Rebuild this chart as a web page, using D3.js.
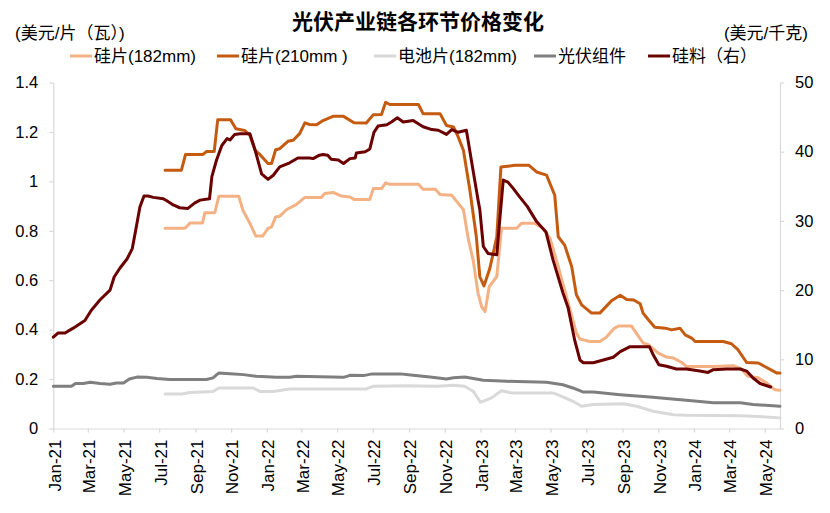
<!DOCTYPE html>
<html>
<head>
<meta charset="utf-8">
<script src="https://cdn.jsdelivr.net/npm/d3@7"></script>
<style>
  body { margin: 0; background: #fff; }
  text { font-family: "Liberation Sans", Arial, "Noto Sans CJK SC", sans-serif; fill: #000; }
</style>
</head>
<body>
<svg id="chart" width="830" height="513"></svg>
<script>
// prices, [date, value]
const wafer182 = [
  ["2021-07-11",0.81],["2021-08-14",0.81],["2021-08-23",0.832],["2021-09-13",0.832],["2021-09-17",0.873],
  ["2021-10-04",0.873],["2021-10-11",0.94],["2021-11-14",0.94],["2021-11-21",0.883],["2021-12-03",0.83],
  ["2021-12-13",0.779],["2021-12-25",0.779],["2022-01-03",0.81],["2022-01-09",0.816],["2022-01-16",0.856],
  ["2022-01-23",0.859],["2022-02-04",0.886],["2022-02-20",0.906],["2022-03-07",0.935],["2022-04-04",0.935],
  ["2022-04-10",0.951],["2022-04-24",0.955],["2022-05-08",0.941],["2022-05-23",0.937],["2022-05-30",0.927],
  ["2022-06-26",0.927],["2022-07-02",0.971],["2022-07-16",0.971],["2022-07-23",0.994],["2022-07-30",0.988],
  ["2022-09-17",0.988],["2022-09-25",0.968],["2022-10-16",0.968],["2022-10-24",0.947],["2022-11-13",0.944],
  ["2022-11-22",0.917],["2022-12-03",0.885],["2022-12-11",0.77],["2022-12-20",0.675],["2022-12-28",0.547],
  ["2023-01-03",0.493],["2023-01-09",0.473],["2023-01-16",0.574],["2023-01-29",0.615],["2023-02-06",0.81],
  ["2023-03-04",0.81],["2023-03-12",0.83],["2023-04-04",0.83],["2023-04-18",0.81],["2023-04-30",0.769],
  ["2023-05-14",0.655],["2023-05-28",0.534],["2023-06-14",0.386],["2023-06-20",0.362],["2023-07-07",0.352],
  ["2023-07-24",0.352],["2023-08-04",0.369],["2023-08-17",0.404],["2023-08-25",0.415],["2023-09-16",0.415],
  ["2023-09-25",0.384],["2023-10-06",0.346],["2023-10-15",0.339],["2023-11-01",0.305],["2023-11-15",0.289],
  ["2023-11-27",0.285],["2023-12-11",0.267],["2023-12-19",0.251],["2024-02-03",0.251],["2024-03-08",0.254],
  ["2024-03-22",0.241],["2024-04-02",0.211],["2024-04-20",0.205],["2024-05-04",0.184],["2024-05-18",0.157],
  ["2024-05-27",0.155]
];

const wafer210 = [
  ["2021-07-11",1.045],["2021-08-08",1.045],["2021-08-15",1.109],["2021-09-14",1.109],["2021-09-20",1.121],
  ["2021-10-03",1.121],["2021-10-09",1.249],["2021-10-31",1.249],["2021-11-09",1.213],["2021-11-24",1.206],
  ["2021-12-03",1.186],["2021-12-12",1.125],["2021-12-20",1.109],["2022-01-03",1.072],["2022-01-09",1.072],
  ["2022-01-16",1.128],["2022-01-23",1.132],["2022-02-06",1.162],["2022-02-15",1.166],["2022-02-26",1.193],
  ["2022-03-07",1.237],["2022-03-15",1.23],["2022-03-27",1.229],["2022-04-07",1.246],["2022-04-24",1.263],
  ["2022-05-12",1.263],["2022-05-30",1.237],["2022-06-20",1.236],["2022-07-02",1.27],["2022-07-16",1.271],
  ["2022-07-23",1.32],["2022-07-30",1.311],["2022-09-17",1.311],["2022-09-25",1.274],["2022-10-24",1.274],
  ["2022-11-04",1.226],["2022-11-16",1.22],["2022-11-24",1.18],["2022-12-03",1.125],["2022-12-14",0.964],
  ["2022-12-25",0.776],["2022-12-31",0.614],["2023-01-07",0.577],["2023-01-17",0.647],["2023-01-29",0.776],
  ["2023-02-05",1.058],["2023-03-01",1.065],["2023-03-25",1.065],["2023-04-07",1.038],["2023-04-24",1.025],
  ["2023-05-08",0.944],["2023-05-14",0.776],["2023-05-25",0.742],["2023-06-06",0.655],["2023-06-14",0.541],
  ["2023-06-23",0.5],["2023-07-10",0.467],["2023-07-24",0.467],["2023-08-02",0.489],["2023-08-13",0.517],
  ["2023-08-28",0.539],["2023-09-08",0.522],["2023-09-20",0.52],["2023-10-01",0.505],["2023-10-06",0.467],
  ["2023-10-15",0.44],["2023-10-26",0.41],["2023-11-13",0.406],["2023-11-24",0.399],["2023-12-08",0.406],
  ["2023-12-17",0.379],["2023-12-28",0.366],["2024-01-03",0.352],["2024-02-20",0.352],["2024-03-05",0.343],
  ["2024-03-16",0.319],["2024-03-31",0.267],["2024-04-20",0.265],["2024-05-01",0.251],["2024-05-21",0.225],
  ["2024-05-27",0.225]
];

const cell182 = [
  ["2021-07-11",0.14],["2021-08-08",0.14],["2021-08-23",0.146],["2021-10-01",0.15],["2021-10-11",0.164],
  ["2021-12-09",0.164],["2021-12-20",0.15],["2022-01-12",0.15],["2022-02-09",0.16],["2022-06-20",0.16],
  ["2022-07-02",0.171],["2022-08-28",0.173],["2022-10-19",0.171],["2022-11-16",0.175],["2022-12-05",0.171],
  ["2022-12-20",0.15],["2023-01-01",0.106],["2023-01-20",0.124],["2023-02-06",0.153],["2023-02-23",0.144],
  ["2023-05-05",0.144],["2023-05-22",0.128],["2023-06-08",0.11],["2023-06-23",0.09],["2023-07-13",0.097],
  ["2023-09-02",0.1],["2023-09-25",0.09],["2023-10-23",0.07],["2023-11-27",0.056],["2023-12-19",0.054],
  ["2024-03-20",0.052],["2024-04-11",0.05],["2024-05-27",0.043]
];

const modules = [
  ["2021-01-01",0.171],["2021-02-01",0.171],["2021-02-08",0.182],["2021-02-21",0.182],["2021-03-05",0.187],
  ["2021-03-22",0.182],["2021-04-08",0.179],["2021-04-19",0.184],["2021-05-01",0.184],["2021-05-11",0.2],
  ["2021-05-24",0.208],["2021-06-10",0.207],["2021-06-27",0.202],["2021-07-19",0.198],["2021-09-20",0.198],
  ["2021-10-01",0.205],["2021-10-11",0.225],["2021-10-30",0.222],["2021-11-22",0.218],["2021-12-14",0.211],
  ["2022-01-18",0.207],["2022-02-09",0.207],["2022-02-21",0.211],["2022-05-12",0.207],["2022-05-23",0.215],
  ["2022-06-15",0.214],["2022-06-30",0.221],["2022-08-17",0.221],["2022-09-08",0.215],["2022-10-07",0.208],
  ["2022-11-04",0.2],["2022-11-16",0.205],["2022-12-05",0.208],["2023-01-06",0.195],["2023-02-15",0.191],
  ["2023-04-24",0.187],["2023-05-22",0.177],["2023-06-08",0.164],["2023-06-25",0.148],["2023-07-13",0.148],
  ["2023-08-28",0.137],["2023-10-23",0.126],["2023-11-15",0.121],["2023-12-19",0.114],["2024-02-03",0.104],
  ["2024-03-20",0.104],["2024-04-11",0.097],["2024-05-27",0.09]
];

// polysilicon, right axis (USD/kg)
const polysilicon = [
  ["2021-01-01",13.2],["2021-01-09",13.8],["2021-01-21",13.8],["2021-02-04",14.5],["2021-02-24",15.6],
  ["2021-03-07",17.1],["2021-03-22",18.6],["2021-04-08",20.0],["2021-04-15",21.9],["2021-04-25",23.2],
  ["2021-05-07",24.5],["2021-05-16",26.0],["2021-05-23",29.2],["2021-05-29",32.0],["2021-06-05",33.6],
  ["2021-06-12",33.6],["2021-06-21",33.4],["2021-07-08",33.2],["2021-07-14",32.9],["2021-07-25",32.3],
  ["2021-08-05",31.9],["2021-08-19",31.8],["2021-08-31",32.6],["2021-09-09",33.0],["2021-09-25",33.2],
  ["2021-09-29",36.4],["2021-10-07",38.8],["2021-10-16",40.9],["2021-10-25",41.9],["2021-10-30",41.7],
  ["2021-11-07",42.5],["2021-11-16",42.6],["2021-12-03",42.6],["2021-12-12",40.2],["2021-12-23",36.8],
  ["2022-01-03",36.0],["2022-01-12",36.6],["2022-01-23",37.8],["2022-02-09",38.4],["2022-02-23",39.1],
  ["2022-03-15",39.1],["2022-03-21",39.0],["2022-04-01",39.5],["2022-04-07",39.6],["2022-04-15",39.5],
  ["2022-04-21",38.9],["2022-05-03",38.8],["2022-05-12",38.3],["2022-05-23",39.0],["2022-06-01",39.1],
  ["2022-06-03",39.8],["2022-06-18",40.0],["2022-06-26",40.4],["2022-07-03",42.8],["2022-07-10",43.7],
  ["2022-07-25",43.9],["2022-08-02",44.3],["2022-08-12",44.9],["2022-08-22",44.3],["2022-09-08",44.5],
  ["2022-09-25",43.6],["2022-10-10",43.2],["2022-10-21",43.1],["2022-11-04",42.5],["2022-11-13",43.2],
  ["2022-11-24",42.8],["2022-12-08",43.1],["2022-12-17",38.5],["2022-12-28",33.0],["2022-12-31",31.6],
  ["2023-01-06",26.3],["2023-01-14",25.3],["2023-01-29",25.1],["2023-02-03",30.1],["2023-02-09",35.9],
  ["2023-02-17",35.6],["2023-02-26",34.7],["2023-03-07",33.7],["2023-03-22",32.1],["2023-04-07",29.9],
  ["2023-04-23",28.4],["2023-05-05",24.4],["2023-05-22",19.6],["2023-05-31",17.4],["2023-06-11",12.8],
  ["2023-06-20",9.9],["2023-06-26",9.5],["2023-07-13",9.5],["2023-07-30",9.9],["2023-08-16",10.3],
  ["2023-08-28",11.1],["2023-09-13",11.8],["2023-10-17",11.8],["2023-10-23",10.7],["2023-11-02",9.2],
  ["2023-11-15",9.0],["2023-12-02",8.6],["2023-12-19",8.6],["2024-01-11",8.3],["2024-01-25",8.1],
  ["2024-02-03",8.5],["2024-02-26",8.6],["2024-03-20",8.6],["2024-03-31",8.3],["2024-04-11",7.3],
  ["2024-04-23",6.5],["2024-05-11",6.0]
];

const leftTicks = [0, 0.2, 0.4, 0.6, 0.8, 1, 1.2, 1.4];
const rightTicks = [0, 10, 20, 30, 40, 50];

const seriesList = [
  { name: "硅片(182mm)",  data: wafer182,    axis: "left",  color: "#f4b183" },
  { name: "硅片(210mm )", data: wafer210,    axis: "left",  color: "#c55a11" },
  { name: "电池片(182mm)", data: cell182,     axis: "left",  color: "#d9d9d9" },
  { name: "光伏组件",      data: modules,     axis: "left",  color: "#7f7f7f" },
  { name: "硅料（右）",    data: polysilicon, axis: "right", color: "#6b0000" }
];

const svg = d3.select("#chart");
const parse = d3.timeParse("%Y-%m-%d");

const plot = { left: 53.3, right: 780, top: 82.5, bottom: 428.5 };

let x = d3.scaleTime()
    .domain([new Date(2021, 0, 1), new Date(2024, 4, 27)])
    .range([plot.left, plot.right]);

let yLeft = d3.scaleLinear().domain([0, 1.4]).range([plot.bottom, plot.top]);
let yRight = d3.scaleLinear().domain([0, 50]).range([plot.bottom, plot.top]);

// axes
let xAxisG = svg.append("g")
    .attr("transform", `translate(0, ${plot.bottom})`)
    .call(d3.axisBottom(x)
        .ticks(d3.timeMonth.every(2))
        .tickFormat(d3.timeFormat("%b-%y"))
        .tickSize(4)
        .tickSizeOuter(0));

xAxisG.selectAll(".tick text")
    .attr("transform", "rotate(-90)")
    .attr("text-anchor", "end")
    .attr("x", -11)
    .attr("y", 0)
    .attr("dy", "0.4em")
    .style("font-size", "17px");

let leftAxisG = svg.append("g")
    .attr("transform", `translate(${plot.left}, 0)`)
    .call(d3.axisLeft(yLeft)
        .tickValues(leftTicks)
        .tickFormat(d => String(+d.toFixed(1)))
        .tickSize(4)
        .tickPadding(11)
        .tickSizeOuter(0));

let rightAxisG = svg.append("g")
    .attr("transform", `translate(${plot.right}, 0)`)
    .call(d3.axisRight(yRight)
        .tickValues(rightTicks)
        .tickSize(4)
        .tickPadding(11)
        .tickSizeOuter(0));

[xAxisG, leftAxisG, rightAxisG].forEach(g => {
    g.select(".domain").attr("stroke", "#d9d9d9").attr("stroke-width", 1.2);
    g.selectAll(".tick line").attr("stroke", "#d9d9d9").attr("stroke-width", 1.2);
    g.selectAll(".tick text").attr("fill", "#000")
        .style("font-family", '"Liberation Sans", Arial, sans-serif');
});
leftAxisG.selectAll(".tick text").style("font-size", "16.5px");
rightAxisG.selectAll(".tick text").style("font-size", "16.5px");

// lines
seriesList.forEach(s => {
    let yScale = s.axis === "left" ? yLeft : yRight;
    let lineFn = d3.line()
        .x(d => x(parse(d[0])))
        .y(d => yScale(d[1]));

    svg.append("path")
        .datum(s.data)
        .attr("fill", "none")
        .attr("stroke", s.color)
        .attr("stroke-width", 3)
        .attr("stroke-linejoin", "round")
        .attr("stroke-linecap", "round")
        .attr("d", lineFn);
});

// title and unit labels
svg.append("text")
    .attr("x", 418).attr("y", 21)
    .attr("dy", "0.36em")
    .attr("text-anchor", "middle")
    .style("font-size", "21px")
    .style("font-weight", "bold")
    .text("光伏产业链各环节价格变化");

svg.append("text")
    .attr("x", 15).attr("y", 33)
    .attr("dy", "0.36em")
    .style("font-size", "17px")
    .text("(美元/片（瓦）)");

svg.append("text")
    .attr("x", 808).attr("y", 33)
    .attr("dy", "0.36em")
    .attr("text-anchor", "end")
    .style("font-size", "17px")
    .text("(美元/千克)");

// legend
const legendX = [70, 217, 374, 534, 648];
let legendG = svg.selectAll("g.legend-item")
    .data(seriesList)
    .join("g")
    .classed("legend-item", true)
    .attr("transform", (d, i) => `translate(${legendX[i]}, 56)`);

legendG.append("line")
    .attr("x1", 0).attr("x2", 22)
    .attr("stroke", d => d.color)
    .attr("stroke-width", 3);

legendG.append("text")
    .attr("x", 24)
    .attr("dy", "0.36em")
    .style("font-size", "17px")
    .text(d => d.name);
</script>
</body>
</html>
